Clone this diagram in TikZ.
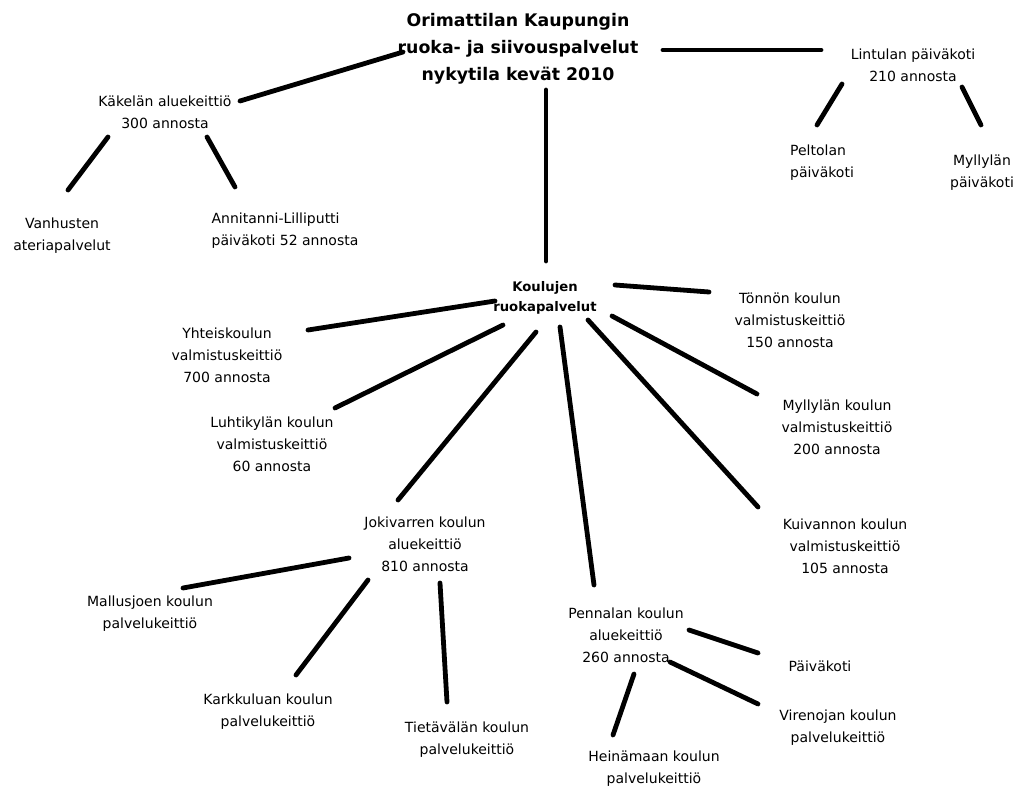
\documentclass[tikz,border=0pt]{standalone}
\usepackage{fontspec}
\setmainfont{DejaVu Sans}
\usepackage{tikz}
\tikzstyle{kitchen} = [align=center, inner sep=0pt, font={\fontsize{10.5pt}{16.5pt}\selectfont}]
\tikzstyle{heading} = [align=center, inner sep=0pt, font={\fontsize{13pt}{20.25pt}\selectfont\bfseries}]
\tikzstyle{subhead} = [align=center, inner sep=0pt, font={\fontsize{9.9pt}{15pt}\selectfont\bfseries}]
\tikzstyle{link}    = [line width=3.6pt, line cap=round]

\begin{document}
\begin{tikzpicture}[x=0.75pt,y=-0.75pt]
    \path[use as bounding box, fill=white] (0,0) rectangle (1027,787);

    % top level
    \node[heading] (title) at (518,49) {Orimattilan Kaupungin\\ruoka- ja siivouspalvelut\\nykytila kevät 2010};
    \node[kitchen] (kak) at (165,112) {Käkelän aluekeittiö\\300 annosta};
    \node[kitchen] (vanh) at (62,236) {Vanhusten\\ateriapalvelut};
    \node[kitchen, align=left] (anni) at (285,231) {Annitanni-Lilliputti\\päiväkoti 52 annosta};
    \node[kitchen] (lint) at (913,65) {Lintulan päiväkoti\\210 annosta};
    \node[kitchen, align=left] (pelt) at (822,163) {Peltolan\\päiväkoti};
    \node[kitchen] (myll) at (982,173) {Myllylän\\päiväkoti};

    % schools
    \node[subhead] (koul) at (545,298) {Koulujen\\ruokapalvelut};
    \node[kitchen] (yht) at (227,355) {Yhteiskoulun\\valmistuskeittiö\\700 annosta};
    \node[kitchen] (luht) at (272,444) {Luhtikylän koulun\\valmistuskeittiö\\60 annosta};
    \node[kitchen] (tonn) at (790,320) {Tönnön koulun\\valmistuskeittiö\\150 annosta};
    \node[kitchen] (mylk) at (837,427) {Myllylän koulun\\valmistuskeittiö\\200 annosta};
    \node[kitchen] (kuiv) at (845,546) {Kuivannon koulun\\valmistuskeittiö\\105 annosta};
    \node[kitchen] (joki) at (425,544) {Jokivarren koulun\\aluekeittiö\\810 annosta};
    \node[kitchen] (penn) at (626,635) {Pennalan koulun\\aluekeittiö\\260 annosta};

    % service kitchens
    \node[kitchen] (mall) at (150,614) {Mallusjoen koulun\\palvelukeittiö};
    \node[kitchen] (kark) at (268,712) {Karkkuluan koulun\\palvelukeittiö};
    \node[kitchen] (tiet) at (467,740) {Tietävälän koulun\\palvelukeittiö};
    \node[kitchen] (paiv) at (820,666) {Päiväkoti};
    \node[kitchen] (vire) at (838,728) {Virenojan koulun\\palvelukeittiö};
    \node[kitchen] (hein) at (654,769) {Heinämaan koulun\\palvelukeittiö};

    \draw[link] ([shift={(75,-11)}]kak.center) -- ([shift={(-115,3)}]title.center);
    \draw[link] ([shift={(145,1)}]title.center) -- ([shift={(-92,-15)}]lint.center);
    \draw[link] ([shift={(28,41)}]title.center) -- ([shift={(1,-37)}]koul.center);
    \draw[link] ([shift={(-57,25)}]kak.center) -- ([shift={(6,-46)}]vanh.center);
    \draw[link] ([shift={(42,25)}]kak.center) -- ([shift={(-50,-44)}]anni.center);
    \draw[link] ([shift={(-71,19)}]lint.center) -- ([shift={(-5,-38)}]pelt.center);
    \draw[link] ([shift={(49,22)}]lint.center) -- ([shift={(-1,-48)}]myll.center);

    \draw[link] ([shift={(70,-13)}]koul.center) -- ([shift={(-81,-28)}]tonn.center);
    \draw[link] ([shift={(-50,3)}]koul.center) -- ([shift={(81,-25)}]yht.center);
    \draw[link] ([shift={(-42,27)}]koul.center) -- ([shift={(63,-36)}]luht.center);
    \draw[link] ([shift={(-9,34)}]koul.center) -- ([shift={(-27,-44)}]joki.center);
    \draw[link] ([shift={(15,29)}]koul.center) -- ([shift={(-32,-50)}]penn.center);
    \draw[link] ([shift={(67,18)}]koul.center) -- ([shift={(-80,-33)}]mylk.center);
    \draw[link] ([shift={(43,22)}]koul.center) -- ([shift={(-87,-39)}]kuiv.center);

    \draw[link] ([shift={(-76,14)}]joki.center) -- ([shift={(33,-26)}]mall.center);
    \draw[link] ([shift={(-57,36)}]joki.center) -- ([shift={(28,-37)}]kark.center);
    \draw[link] ([shift={(15,39)}]joki.center) -- ([shift={(-20,-38)}]tiet.center);

    \draw[link] ([shift={(63,-5)}]penn.center) -- ([shift={(-62,-13)}]paiv.center);
    \draw[link] ([shift={(44,27)}]penn.center) -- ([shift={(-80,-24)}]vire.center);
    \draw[link] ([shift={(8,39)}]penn.center) -- ([shift={(-41,-34)}]hein.center);
\end{tikzpicture}
\end{document}
